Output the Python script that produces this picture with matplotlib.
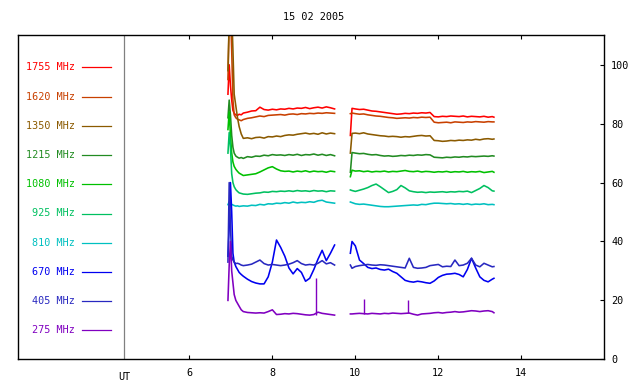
import numpy as np
import matplotlib
matplotlib.use("Agg")
import matplotlib.pyplot as plt
import matplotlib.transforms as mtransforms

# frequencies / colours of the channels (top to bottom in the key)
freqs = ['1755 MHz', '1620 MHz', '1350 MHz', '1215 MHz', '1080 MHz',
         '925 MHz', '810 MHz', '670 MHz', '405 MHz', '275 MHz']
colors = ['#ff0000', '#c84000', '#8b5a00', '#228b22', '#00c000',
          '#00c060', '#00c0c0', '#0000f0', '#2828c0', '#8000c0']

# time (UT hours) of the two observation pieces
t1 = [6.93, 6.96, 6.99, 7.02, 7.05, 7.08, 7.12, 7.16, 7.2, 7.25,
      7.3, 7.4, 7.5, 7.6, 7.7, 7.8, 7.9, 8.0, 8.1, 8.2,
      8.3, 8.4, 8.5, 8.6, 8.7, 8.8, 8.9, 9.0, 9.1, 9.2,
      9.3, 9.4, 9.5]
t2 = [9.88, 9.92, 10.0, 10.1, 10.2, 10.3, 10.4, 10.5, 10.6, 10.7,
      10.8, 10.9, 11.0, 11.1, 11.2, 11.3, 11.4, 11.5, 11.6, 11.7,
      11.8, 11.9, 12.0, 12.1, 12.2, 12.3, 12.4, 12.5, 12.6, 12.7,
      12.8, 12.9, 13.0, 13.1, 13.2, 13.3, 13.34]

# flux levels, first piece
f1755_a = [90, 100, 93, 88, 84.5, 83.5, 83, 82.8, 83.2, 83.0,
           83.6, 83.9, 84.3, 84.4, 85.6, 84.8, 84.6, 84.9, 84.7, 85.0,
           84.9, 85.2, 85.0, 85.3, 85.2, 85.5, 85.1, 85.4, 85.6, 85.3,
           85.7, 85.4, 85.0]
f1620_a = [95, 115, 118, 105, 88, 83, 82, 81.5, 81.3, 81.0,
           81.4, 81.8, 82.0, 82.3, 82.6, 82.4, 82.8, 82.9, 83.0, 83.1,
           82.9, 83.2, 83.3, 83.1, 83.4, 83.3, 83.5, 83.4, 83.6, 83.5,
           83.7, 83.6, 83.5]
f1350_a = [98, 115, 120, 118, 105, 90, 86, 82, 79, 76.5,
           75.0, 75.2, 74.9, 75.3, 75.4, 75.1, 75.6, 75.5, 75.8, 75.6,
           76.0, 76.2, 76.1, 76.4, 76.6, 76.8, 76.5, 76.7, 76.4, 76.9,
           76.5, 76.8, 76.6]
f1215_a = [82, 88, 83, 76, 72, 70, 69.0, 68.6, 68.3, 68.5,
           68.2, 68.8, 68.6, 69.0, 68.9, 69.3, 69.1, 69.5, 69.3, 69.4,
           69.2, 69.5, 69.3, 69.6, 69.2, 69.5, 69.4, 69.7, 69.3, 69.6,
           69.2, 69.5, 69.1]
f1080_a = [78, 84, 76, 70, 67, 65.5, 64.5, 63.8, 63.2, 62.8,
           62.4, 62.6, 62.8, 63.0, 63.6, 64.3, 65.0, 65.4, 64.6, 64.0,
           63.8, 63.9, 63.6, 63.9, 63.7, 64.0, 63.6, 63.9, 63.7, 63.8,
           63.5, 63.9, 63.7]
f925_a = [70, 77, 72, 63, 60, 58.6, 57.6, 57.0, 56.5, 56.3,
          56.1, 56.0, 56.2, 56.4, 56.5, 56.8, 56.7, 57.0, 56.9, 57.1,
          57.0, 57.2, 57.0, 57.3, 57.1, 57.2, 57.0, 57.3, 57.1, 57.2,
          56.9, 57.2, 57.1]
f810_a = [52.5, 53.5, 53.0, 52.6, 52.4, 52.2, 52.0, 52.1, 51.9, 52.0,
          52.1, 52.0, 52.3, 52.2, 52.6, 52.4, 52.8, 52.7, 53.0, 52.9,
          53.2, 53.0, 53.4, 53.1, 53.3, 53.2, 53.5, 53.3, 53.8, 54.0,
          53.4, 53.2, 53.0]
f670_a = [35, 45, 60, 50, 36, 33, 31.5, 30.5, 29.5, 28.8,
          28.2, 27.2, 26.4, 25.9, 25.6, 25.6, 28.0, 33.0, 40.5, 38.0,
          35.0, 31.0, 29.0, 30.8, 29.5, 26.5, 27.5, 30.5, 34.0, 37.0,
          33.5, 36.0, 38.8]
f405_a = [33, 60, 45, 35, 33.7, 33.0, 32.5, 32.6, 32.4, 32.0,
          31.8, 32.0, 32.3, 33.0, 33.7, 32.5, 32.0, 32.2, 32.0, 31.8,
          32.0, 32.3, 32.8, 33.5, 32.5, 32.0, 32.2, 32.0, 32.6, 33.5,
          32.4, 32.8, 32.0]
f275_a = [20, 32, 40, 30, 26, 22, 20, 19, 18, 16.8,
          16.2, 15.9, 15.8, 15.7, 15.8, 15.7, 16.2, 16.8, 15.2, 15.3,
          15.5, 15.4, 15.6, 15.5, 15.3, 15.1, 15.0, 15.2, 16.0, 15.6,
          15.4, 15.2, 15.0]

# flux levels, second piece
f1755_b = [76, 85.2, 85.0, 84.8, 84.9, 84.6, 84.3, 84.2, 84.0, 83.8,
           83.6, 83.4, 83.2, 83.3, 83.5, 83.4, 83.6, 83.5, 83.7, 83.6,
           83.8, 82.4, 82.3, 82.5, 82.4, 82.6, 82.5, 82.4, 82.6, 82.3,
           82.5, 82.4, 82.3, 82.5, 82.2, 82.4, 82.2]
f1620_b = [83.4, 83.6, 83.4, 83.2, 83.3, 83.0, 82.8, 82.6, 82.5, 82.3,
           82.1, 82.0, 81.8, 81.9, 82.0, 81.9, 82.1, 82.0, 82.2, 82.1,
           82.2, 80.5, 80.3, 80.4, 80.5, 80.3, 80.6, 80.5, 80.4, 80.6,
           80.5, 80.7, 80.6, 80.5, 80.7, 80.6, 80.6]
f1350_b = [70, 76.7, 76.8, 76.6, 76.9, 76.5, 76.3, 76.1, 75.9, 75.8,
           75.6, 75.7, 75.6, 75.4, 75.6, 75.5, 75.7, 75.9, 76.0, 75.8,
           75.9, 74.3, 74.2, 74.0, 74.1, 74.3, 74.2, 74.4, 74.3, 74.5,
           74.4, 74.7, 74.5, 74.8, 74.9, 74.7, 74.8]
f1215_b = [63.5, 70.2, 70.0, 69.8, 69.9, 69.6, 69.4, 69.5, 69.2, 69.0,
           69.1, 68.9, 69.0, 69.2, 69.1, 69.3, 69.2, 69.4, 69.3, 69.5,
           69.4, 68.6, 68.5, 68.4, 68.6, 68.5, 68.7, 68.6, 68.8, 68.7,
           68.9, 68.8, 68.9, 69.0, 68.9, 69.1, 69.0]
f1080_b = [62.0, 64.2, 63.9, 64.0, 63.7, 63.9, 63.6, 63.8, 63.7, 63.9,
           63.6, 63.8, 63.7, 63.9, 64.1, 63.8, 63.7, 63.9, 63.6, 63.8,
           63.7, 63.5, 63.7, 63.6, 63.8, 63.5, 63.7, 63.6, 63.8, 63.5,
           63.7, 63.6, 63.8, 63.4, 63.6, 63.8, 63.5]
f925_b = [57.5, 57.3, 57.0, 57.4, 57.8, 58.3, 59.0, 59.5, 58.6, 57.6,
          56.6, 57.0, 57.6, 59.0, 58.2, 57.2, 56.9, 56.7, 56.8, 56.6,
          56.8, 56.7, 56.8, 56.9, 56.7, 56.9, 56.8, 57.0, 56.9, 57.1,
          56.6, 57.3, 58.0, 59.0, 58.3, 57.2, 57.1]
f810_b = [53.4, 53.2, 52.8, 52.6, 52.7, 52.5, 52.3, 52.1, 51.9, 51.8,
          51.8, 51.9, 52.0, 52.1, 52.2, 52.3, 52.4, 52.3, 52.6, 52.5,
          52.8, 53.0, 53.0, 52.9, 52.8, 52.9, 52.7, 52.8, 52.6, 52.8,
          52.5, 52.7, 52.6, 52.8, 52.5, 52.6, 52.5]
f670_b = [36, 40, 38.5, 33.7, 32.5, 31.2, 30.8, 31.0, 30.5, 30.3,
          30.6, 29.8, 29.2, 28.0, 26.8, 26.4, 26.2, 26.5, 26.3, 26.0,
          25.8, 26.6, 27.8, 28.5, 28.9, 29.0, 29.2, 28.8, 28.0, 30.5,
          34.3, 31.0, 28.0, 26.8, 26.3, 27.2, 27.5]
f405_b = [32.0, 30.9, 31.5, 31.8, 32.0, 32.2, 32.0, 31.9, 32.1, 32.0,
          31.8, 31.6, 31.4, 31.2, 31.0, 34.3, 31.2, 30.9, 31.0, 31.2,
          31.8, 32.0, 32.2, 31.4, 31.6, 31.5, 33.7, 31.8, 32.0, 32.6,
          34.3, 32.0, 31.4, 32.6, 32.0, 31.4, 31.5]
f275_b = [15.4, 15.4, 15.5, 15.6, 15.5, 15.4, 15.6, 15.5, 15.4, 15.6,
          15.5, 15.7, 15.6, 15.5, 15.6, 15.7, 15.3, 15.0, 15.4, 15.5,
          15.6, 15.8, 15.9, 15.7, 15.9, 16.0, 16.2, 16.0, 16.1, 16.3,
          16.5, 16.4, 16.2, 16.4, 16.5, 16.2, 15.8]

# short bursts on the 275 MHz channel
spike_t = [9.06, 10.2, 11.27]
spike_lo = [15.1, 15.5, 15.6]
spike_hi = [27.5, 20.4, 20.2]

series_a = [f1755_a, f1620_a, f1350_a, f1215_a, f1080_a,
            f925_a, f810_a, f670_a, f405_a, f275_a]
series_b = [f1755_b, f1620_b, f1350_b, f1215_b, f1080_b,
            f925_b, f810_b, f670_b, f405_b, f275_b]

# key positions (data coords)
key_y = [99.1, 89.2, 79.3, 69.4, 59.5, 49.5, 39.6, 29.7, 19.8, 9.9]
key_x0, key_x1, key_text = 3.415, 4.106, 3.25
ut_x = 4.43

plt.rcParams['font.family'] = 'DejaVu Sans Mono'
fig = plt.figure(figsize=(6.4, 3.84), dpi=100)
ax = fig.add_axes([18 / 640, 1 - 359.3 / 384, (604.3 - 18) / 640, (359.3 - 35.3) / 384])

for i in range(len(freqs)):
    ax.plot(t1, series_a[i], color=colors[i], lw=1.15)
    ax.plot(t2, series_b[i], color=colors[i], lw=1.15)
    ax.plot([key_x0, key_x1], [key_y[i], key_y[i]], color=colors[i], lw=0.9)
    ax.text(key_text, key_y[i], freqs[i], color=colors[i], fontsize=7.3,
            ha='right', va='center')

ax.vlines(spike_t, spike_lo, spike_hi, color=colors[-1], lw=1.0)
ax.axvline(ut_x, color='#808080', lw=0.9)

ax.set_xlim(1.87, 16.0)
ax.set_ylim(0, 110)
ax.set_xticks([6, 8, 10, 12, 14])
ax.set_yticks([0, 20, 40, 60, 80, 100])
ax.yaxis.tick_right()
ax.tick_params(axis='x', direction='in', length=3, width=0.8, top=True,
               labelsize=7.3, pad=6)
ax.tick_params(axis='y', direction='in', length=3, width=0.8, left=False,
               labelsize=7.3, pad=5)
for s in ax.spines.values():
    s.set_linewidth(1.0)

trans = mtransforms.blended_transform_factory(ax.transData, ax.transAxes)
ax.text(ut_x, -0.04, 'UT', transform=trans, fontsize=7.3, ha='center', va='top')

fig.text(314 / 640, 1 - 17 / 384, '15 02 2005', fontsize=7.3, ha='center', va='center')

fig.savefig('out.png', dpi=100)
